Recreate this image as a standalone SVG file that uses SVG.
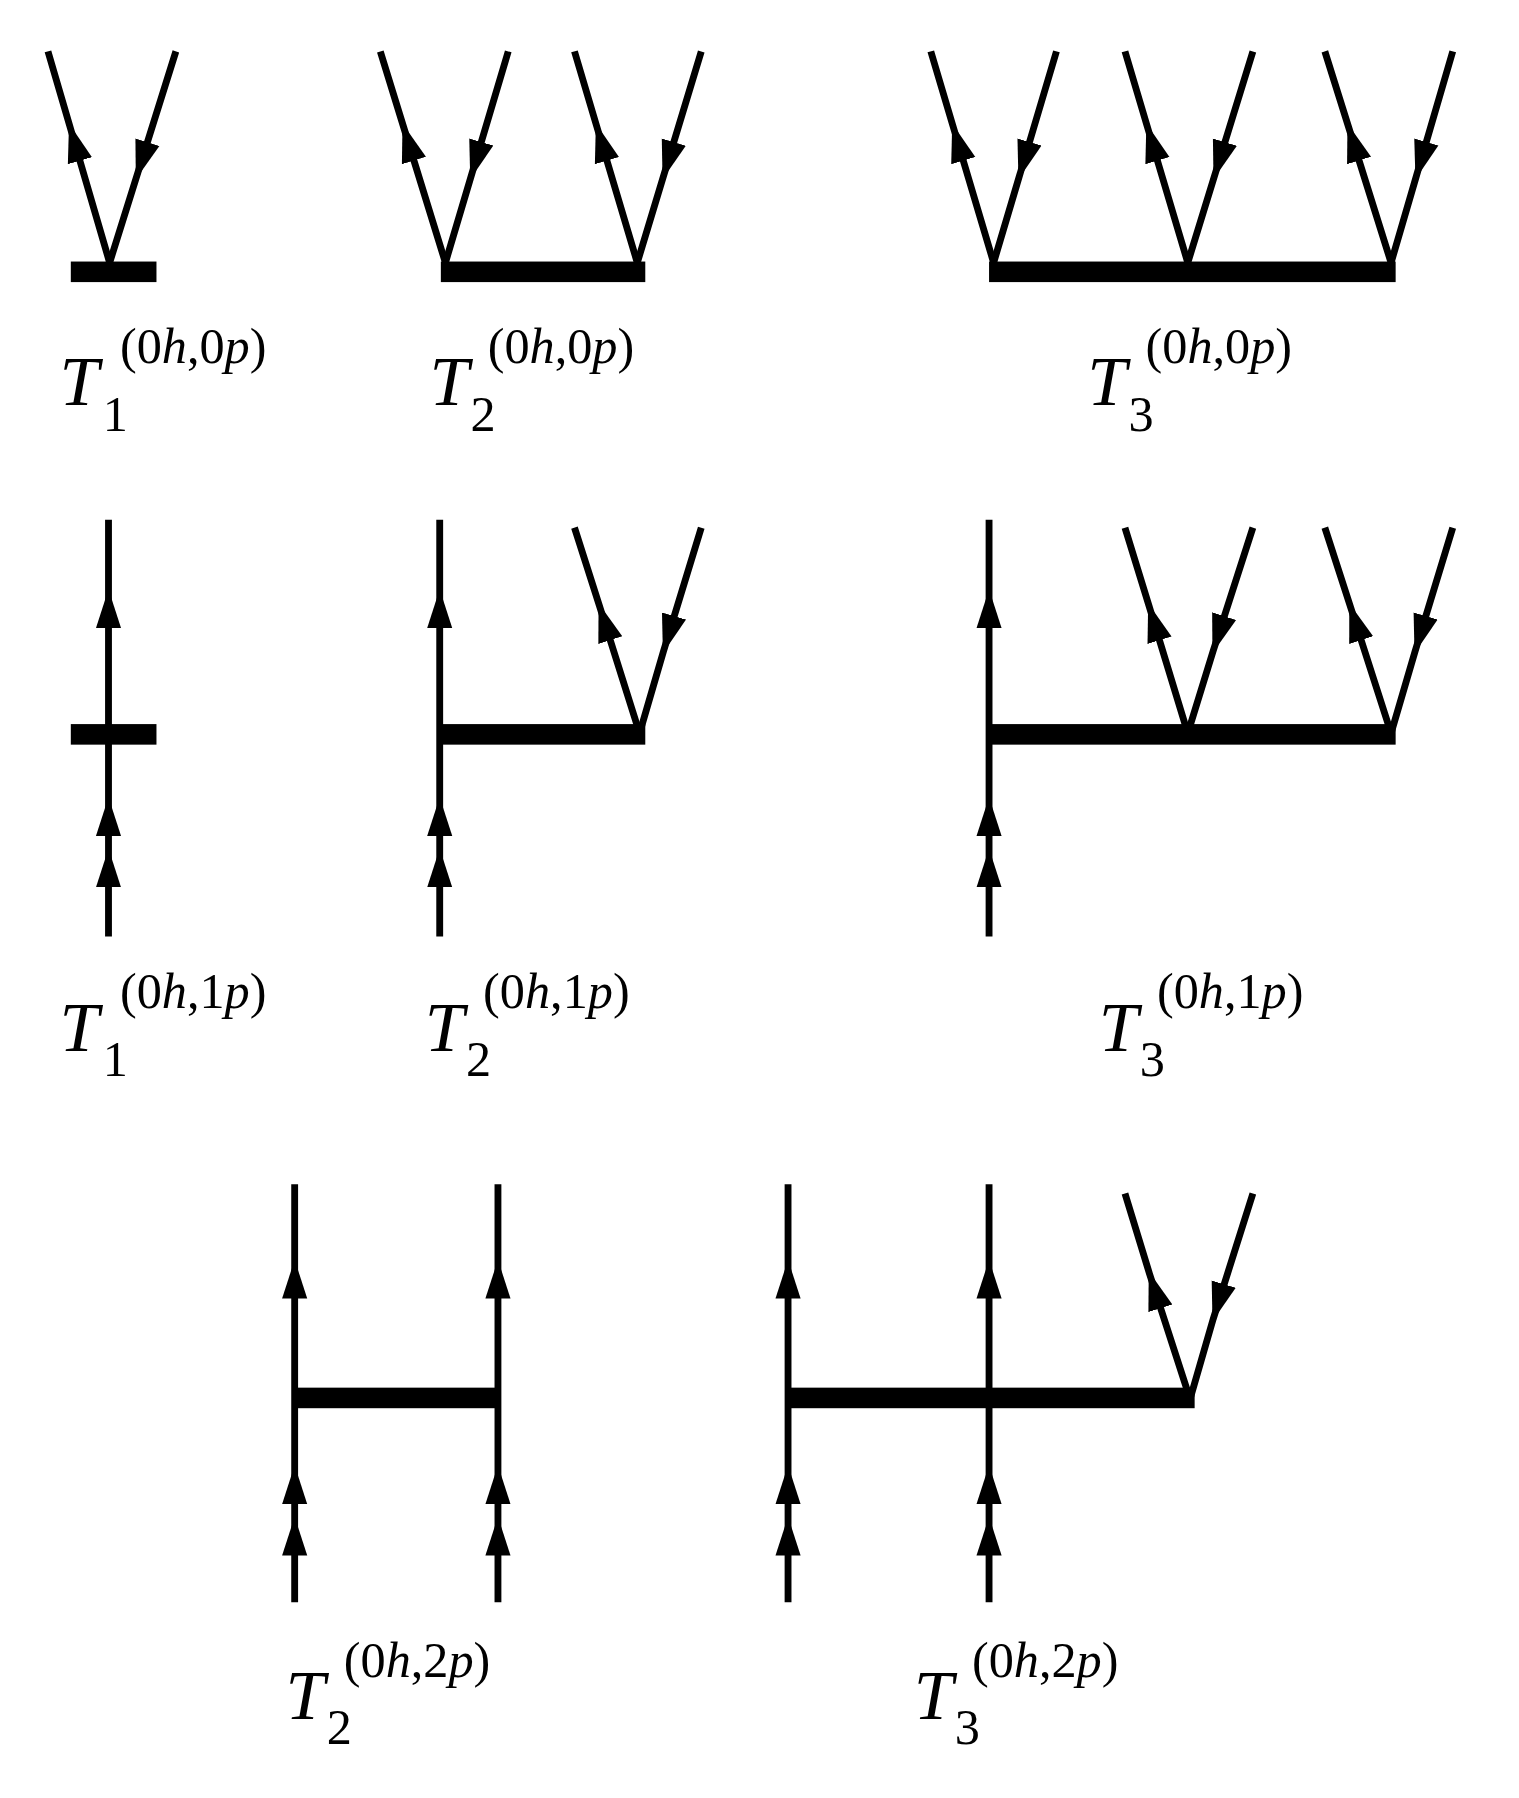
<svg xmlns="http://www.w3.org/2000/svg" width="1519" height="1798" viewBox="0 0 1519 1798">
<style>
.l{fill:none;stroke:#000;stroke-width:6;marker-mid:url(#a)}
.b{fill:#000}
.t{font-family:"Liberation Serif",serif;font-size:62px;fill:#000}
.s{font-size:44px;font-style:normal}
.i{font-style:italic}
</style>
<defs><marker id="a" markerUnits="userSpaceOnUse" viewBox="-32 -12 34 24" refX="0" refY="0" markerWidth="34" markerHeight="24" orient="auto"><path d="M2,0 L-32,-11 L-32,11 z" fill="#000"/></marker></defs>
<rect width="1519" height="1798" fill="#fff"/>
<g transform="scale(1.1421)">
<g id="connectors">
<polyline class="l" points="96,230 61,110 42,45"/>
<polyline class="l" points="154,45 119.5,155 96,230"/>
<polyline class="l" points="390,230 353,110 333,45"/>
<polyline class="l" points="445,45 412.3,155 390,230"/>
<polyline class="l" points="558,230 522.3,110 503,45"/>
<polyline class="l" points="614,45 580.7,155 558,230"/>
<polyline class="l" points="870,230 834.3,110 815,45"/>
<polyline class="l" points="925,45 892.3,155 870,230"/>
<polyline class="l" points="1040,230 1004.3,110 985,45"/>
<polyline class="l" points="1097,45 1063.1,155 1040,230"/>
<polyline class="l" points="1218,230 1180.4,110 1160,45"/>
<polyline class="l" points="1272,45 1239.9,155 1218,230"/>
<polyline class="l" points="95,820 95,745 95,700 95,518 95,455"/>
<polyline class="l" points="385,820 385,745 385,700 385,518 385,455"/>
<polyline class="l" points="560,642 524.7,530 503,462"/>
<polyline class="l" points="614,462 581,570 560,642"/>
<polyline class="l" points="866,820 866,745 866,700 866,518 866,455"/>
<polyline class="l" points="1040,642 1005.9,530 985,462"/>
<polyline class="l" points="1097,462 1062.2,570 1040,642"/>
<polyline class="l" points="1218,642 1182,530 1160,462"/>
<polyline class="l" points="1272,462 1239.1,570 1218,642"/>
<polyline class="l" points="258,1403 258,1330 258,1285 258,1105 258,1037"/>
<polyline class="l" points="436,1403 436,1330 436,1285 436,1105 436,1037"/>
<polyline class="l" points="690,1403 690,1330 690,1285 690,1105 690,1037"/>
<polyline class="l" points="866,1403 866,1330 866,1285 866,1105 866,1037"/>
<polyline class="l" points="1042,1225 1006.4,1115 985,1045"/>
<polyline class="l" points="1097,1045 1062.2,1155 1042,1225"/>
</g>
<g id="n1"><rect class="b" x="62" y="229" width="75" height="18"/><text class="t" x="52" y="355"><tspan class="i">T</tspan><tspan class="s" x="90" y="377">1</tspan><tspan class="s" x="105" y="318">(0<tspan class="i">h</tspan>,0<tspan class="i">p</tspan>)</tspan></text></g>
<g id="n2"><rect class="b" x="386" y="229" width="179" height="18"/><text class="t" x="376" y="355"><tspan class="i">T</tspan><tspan class="s" x="412" y="377">2</tspan><tspan class="s" x="427" y="318">(0<tspan class="i">h</tspan>,0<tspan class="i">p</tspan>)</tspan></text></g>
<g id="n3"><rect class="b" x="866" y="229" width="356" height="18"/><text class="t" x="952" y="355"><tspan class="i">T</tspan><tspan class="s" x="988" y="377">3</tspan><tspan class="s" x="1003" y="318">(0<tspan class="i">h</tspan>,0<tspan class="i">p</tspan>)</tspan></text></g>
<g id="n4"><rect class="b" x="62" y="634" width="75" height="18"/><text class="t" x="52" y="920"><tspan class="i">T</tspan><tspan class="s" x="90" y="942">1</tspan><tspan class="s" x="105" y="883">(0<tspan class="i">h</tspan>,1<tspan class="i">p</tspan>)</tspan></text></g>
<g id="n5"><rect class="b" x="385" y="634" width="180" height="18"/><text class="t" x="372" y="920"><tspan class="i">T</tspan><tspan class="s" x="408" y="942">2</tspan><tspan class="s" x="423" y="883">(0<tspan class="i">h</tspan>,1<tspan class="i">p</tspan>)</tspan></text></g>
<g id="n6"><rect class="b" x="866" y="634" width="356" height="18"/><text class="t" x="962" y="920"><tspan class="i">T</tspan><tspan class="s" x="998" y="942">3</tspan><tspan class="s" x="1013" y="883">(0<tspan class="i">h</tspan>,1<tspan class="i">p</tspan>)</tspan></text></g>
<g id="n7"><rect class="b" x="258" y="1215" width="178" height="18"/><text class="t" x="250" y="1505"><tspan class="i">T</tspan><tspan class="s" x="286" y="1527">2</tspan><tspan class="s" x="301" y="1468">(0<tspan class="i">h</tspan>,2<tspan class="i">p</tspan>)</tspan></text></g>
<g id="n8"><rect class="b" x="690" y="1215" width="356" height="18"/><text class="t" x="800" y="1505"><tspan class="i">T</tspan><tspan class="s" x="836" y="1527">3</tspan><tspan class="s" x="851" y="1468">(0<tspan class="i">h</tspan>,2<tspan class="i">p</tspan>)</tspan></text></g>
</g>
</svg>
